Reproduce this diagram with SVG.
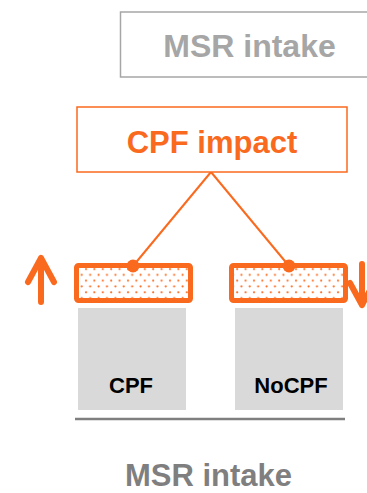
<svg xmlns="http://www.w3.org/2000/svg" width="367" height="493" viewBox="0 0 367 493">
  <defs>
    <pattern id="dots" patternUnits="userSpaceOnUse" x="0" y="0" width="8.4" height="11.6">
      <circle cx="2" cy="2.2" r="1.1" fill="#FA6A1E"/>
      <circle cx="6.2" cy="8" r="1.1" fill="#FA6A1E"/>
    </pattern>
  </defs>
  <style>
    .t { font-family: "Liberation Sans", Arial, sans-serif; font-weight: bold; text-anchor: middle; }
    .or { stroke: #FA6A1E; fill: none; }
    .bar { fill: url(#dots); stroke: #FA6A1E; stroke-width: 5; }
    .gray { fill: #D9D9D9; }
    .arrow { stroke: #FA6A1E; stroke-width: 6; fill: none; stroke-linecap: round; stroke-linejoin: round; }
  </style>
  <g id="msr-intake-top">
    <rect x="120.5" y="12" width="260" height="65" fill="#fff" stroke="#A6A6A6" stroke-width="1.5"/>
    <text class="t" x="249.5" y="57" font-size="32" fill="#A6A6A6">MSR intake</text>
  </g>
  <g id="connectors">
    <line class="or" x1="211" y1="172" x2="133" y2="266" stroke-width="2"/>
    <line class="or" x1="211" y1="172" x2="289" y2="266" stroke-width="2"/>
  </g>
  <g id="cpf-impact">
    <rect x="77" y="107" width="270" height="65" fill="#fff" stroke="#FA6A1E" stroke-width="1.5"/>
    <text class="t" x="212" y="153" font-size="31" fill="#FA6A1E">CPF impact</text>
  </g>
  <g id="cpf-bar">
    <rect class="gray" x="78" y="308" width="108" height="102"/>
    <rect class="bar" x="76.5" y="265.5" width="114" height="35" rx="2"/>
    <circle cx="133" cy="266" r="6.5" fill="#FA6A1E"/>
    <text class="t" x="131" y="393" font-size="22" fill="#000">CPF</text>
  </g>
  <g id="nocpf-bar">
    <rect class="gray" x="235" y="308" width="108" height="102"/>
    <rect class="bar" x="231.5" y="265.5" width="114" height="35" rx="2"/>
    <circle cx="289" cy="266" r="6.5" fill="#FA6A1E"/>
    <text class="t" x="291" y="393" font-size="22" fill="#000">NoCPF</text>
  </g>
  <g id="up-arrow">
    <path class="arrow" d="M41 302 V258 M28 282 L41 258 L54 282"/>
  </g>
  <g id="down-arrow">
    <path class="arrow" d="M362 264 V305 M350 283 L362 305 L374 283"/>
  </g>
  <g id="axis">
    <line x1="75" y1="419" x2="345" y2="419" stroke="#7F7F7F" stroke-width="2.5"/>
    <text class="t" x="208.5" y="486" font-size="31" fill="#7F7F7F">MSR intake</text>
  </g>
</svg>
